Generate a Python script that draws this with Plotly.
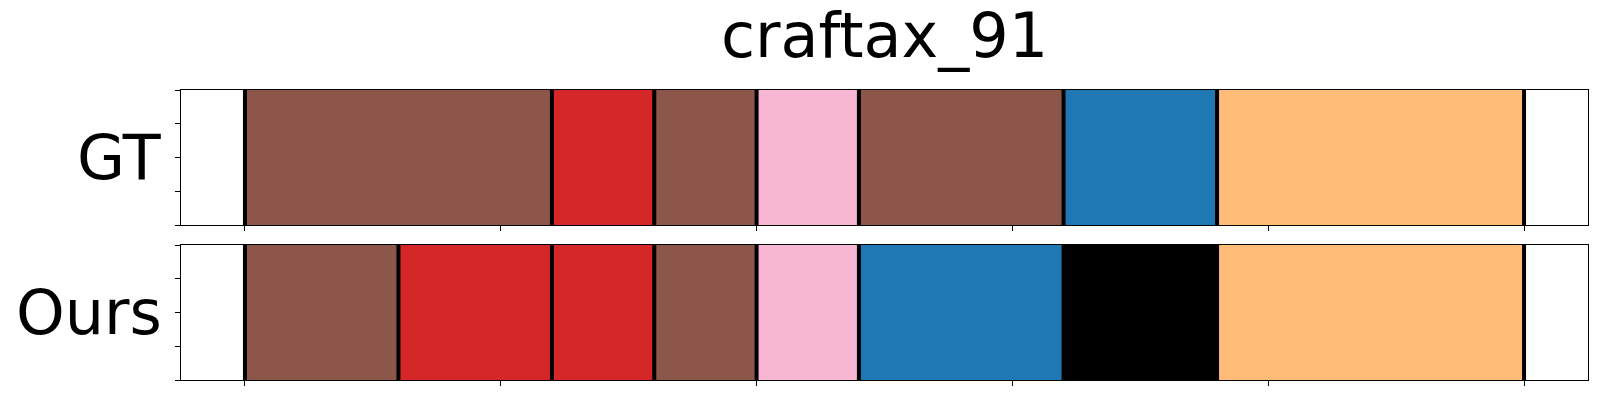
import plotly.graph_objects as go
from plotly.subplots import make_subplots

title = "craftax_91"
row_labels = ["GT", "Ours"]

# segments: (start, end, color)
gt_starts = [0.0, 1.2, 1.6, 2.0, 2.4, 3.2, 3.8]
gt_ends = [1.2, 1.6, 2.0, 2.4, 3.2, 3.8, 5.0]
gt_colors = ["#8c564b", "#d62728", "#8c564b", "#f7b6d2", "#8c564b", "#1f77b4", "#ffbb78"]

ours_starts = [0.0, 0.6, 1.2, 1.6, 2.0, 2.4, 3.2, 3.8]
ours_ends = [0.6, 1.2, 1.6, 2.0, 2.4, 3.2, 3.8, 5.0]
ours_colors = ["#8c564b", "#d62728", "#d62728", "#8c564b", "#f7b6d2", "#1f77b4", "#000000", "#ffbb78"]

x_ticks = [0, 1, 2, 3, 4, 5]
y_ticks = [0, 0.25, 0.5, 0.75, 1.0]

fig = make_subplots(rows=2, cols=1, shared_xaxes=False, vertical_spacing=0.069)

rows = [(gt_starts, gt_ends, gt_colors), (ours_starts, ours_ends, ours_colors)]
for r, (starts, ends, colors) in enumerate(rows, start=1):
    for s, e, c in zip(starts, ends, colors):
        fig.add_trace(go.Bar(x=[e - s], y=[0.5], base=[s], width=[1.0], orientation="h",
                             marker=dict(color=c, line=dict(width=0)), showlegend=False,
                             hoverinfo="skip"), row=r, col=1)
    bounds = sorted(set(starts) | set(ends))
    xs, ys = [], []
    for b in bounds:
        xs += [b, b, None]
        ys += [0, 1, None]
    fig.add_trace(go.Scatter(x=xs, y=ys, mode="lines", line=dict(color="black", width=4),
                             showlegend=False, hoverinfo="skip"), row=r, col=1)

# page body has an 8px default margin; figure sized to fit the 1600x400 window
fig.update_layout(
    width=1592, height=392,
    margin=dict(l=173, r=12, t=82, b=20, autoexpand=False),
    plot_bgcolor="white", paper_bgcolor="white",
    barmode="overlay",
    font=dict(family="DejaVu Sans", color="black"),
    title=dict(text=title, x=0.5, xref="paper", xanchor="center", y=1 - 27 / 392, yanchor="middle",
               font=dict(size=62, family="DejaVu Sans", color="black")),
)

for r in (1, 2):
    fig.update_xaxes(range=[-0.25, 5.25], tickvals=x_ticks, showticklabels=False, ticks="outside",
                     ticklen=5, tickwidth=1.1, tickcolor="black", showline=True, linecolor="black",
                     linewidth=1.1, mirror=True, showgrid=False, zeroline=False, automargin=False,
                     row=r, col=1)
    fig.update_yaxes(range=[0, 1], tickvals=y_ticks, showticklabels=False, ticks="outside",
                     ticklen=5, tickwidth=1.1, tickcolor="black", showline=True, linecolor="black",
                     linewidth=1.1, mirror=True, showgrid=False, zeroline=False, automargin=False,
                     row=r, col=1)

for i, lab in enumerate(row_labels):
    yref = "y domain" if i == 0 else "y2 domain"
    fig.add_annotation(text=lab, xref="paper", x=0, xanchor="right", xshift=-17,
                       yref=yref, y=0.5, yanchor="middle", showarrow=False,
                       font=dict(size=62, family="DejaVu Sans", color="black"))

fig.write_html("out.html")
